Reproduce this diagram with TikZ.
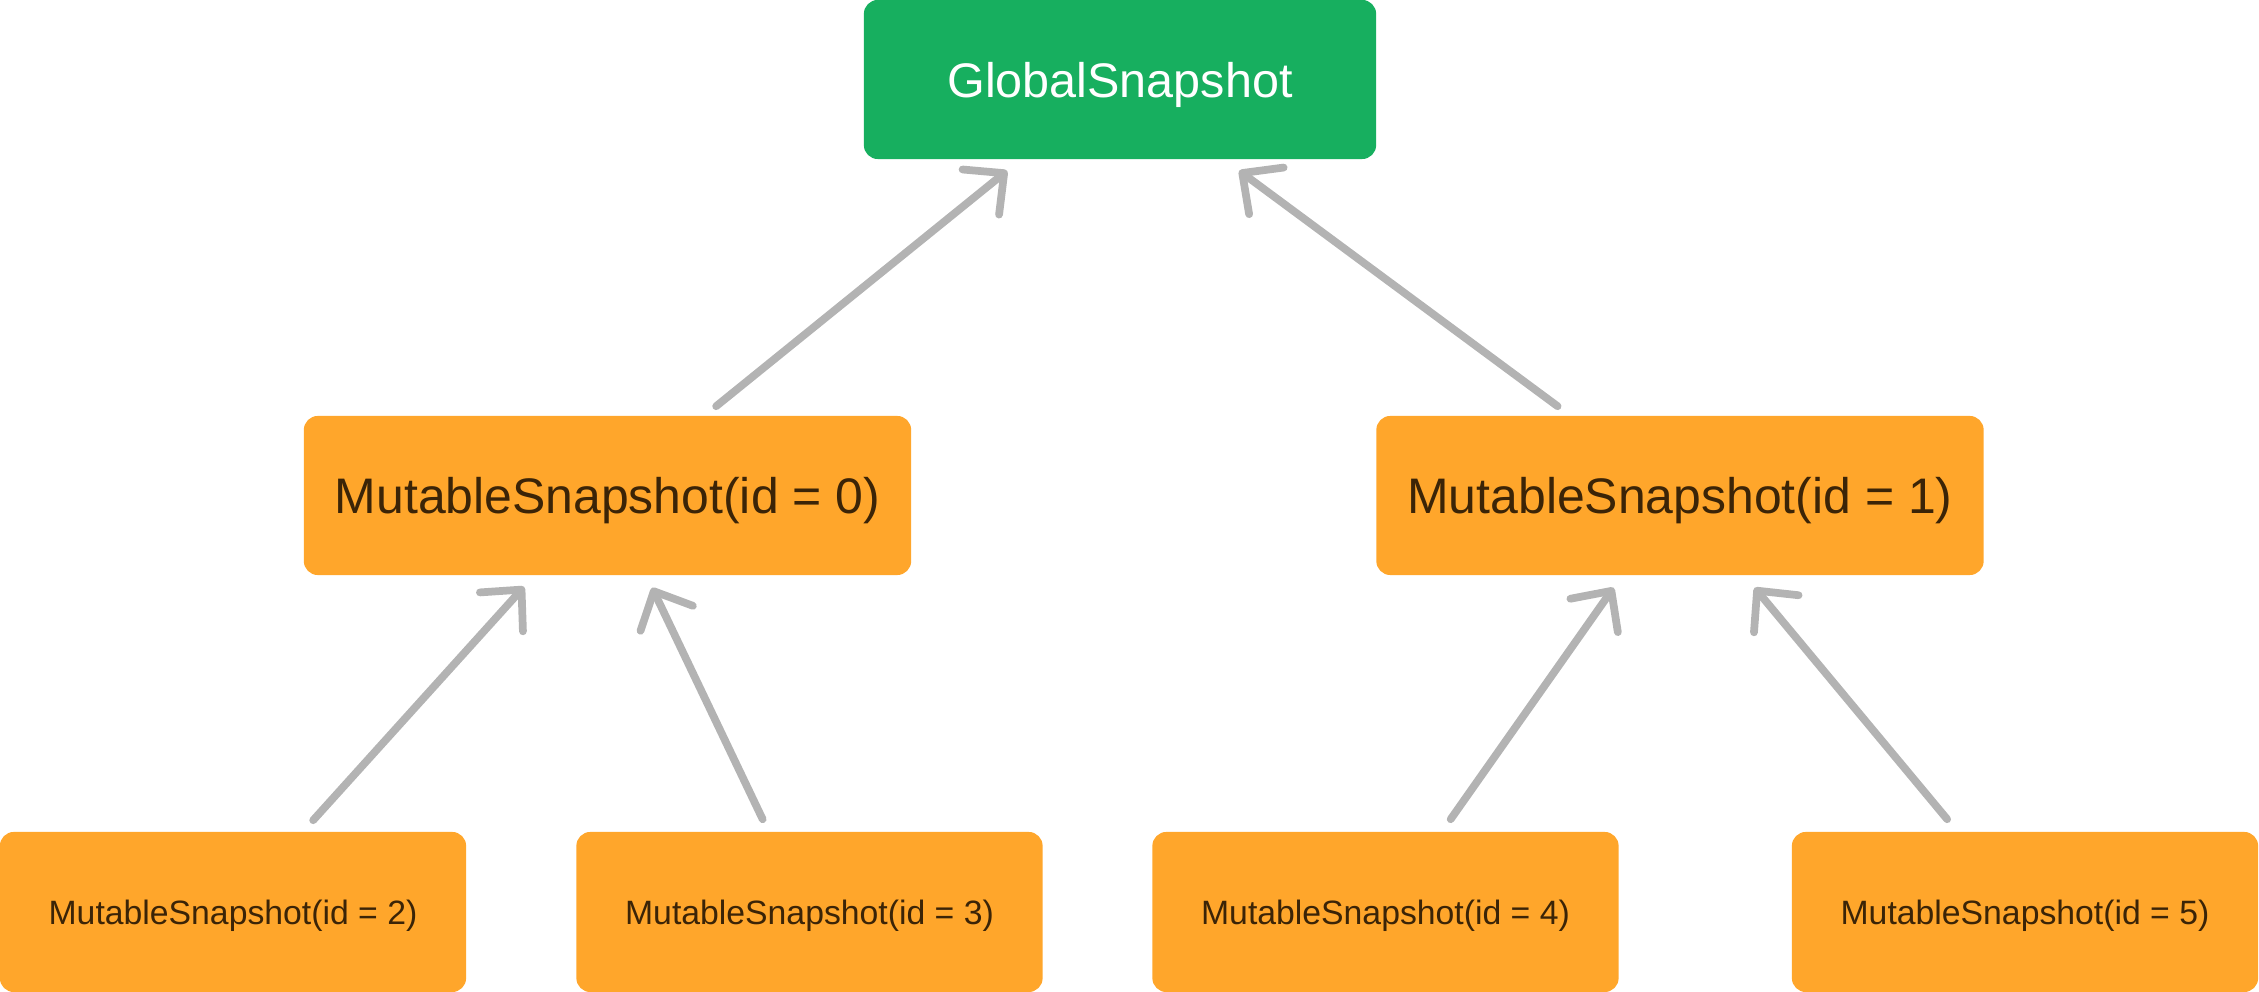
\documentclass[tikz,border=0pt]{standalone}
\usepackage{fontspec}
\setmainfont{Liberation Sans}
\usetikzlibrary{arrows.meta,calc}
\definecolor{gsgreen}{HTML}{17AF5F}
\definecolor{msorange}{HTML}{FFA62B}
\definecolor{mstext}{HTML}{3B2407}
\definecolor{arrgray}{HTML}{B3B3B3}
\tikzset{
  box/.style={rectangle, rounded corners=0.14cm, inner sep=0pt, minimum height=1.59cm, text depth=0pt},
  gbox/.style={box, fill=gsgreen, text=white, minimum width=5.12cm, font=\fontsize{13.8pt}{16pt}\selectfont},
  mbox/.style={box, fill=msorange, text=mstext, minimum width=6.07cm, font=\fontsize{14.2pt}{17pt}\selectfont},
  sbox/.style={box, fill=msorange, text=mstext, minimum width=4.66cm, minimum height=1.6cm, font=\fontsize{9.6pt}{12pt}\selectfont},
  arr/.style={draw=arrgray, line width=2.2pt, line cap=round, line join=round,
    -{Straight Barb[length=0.3cm, width=0.58cm, line cap=round, line join=round]}}
}
\begin{document}
\begin{tikzpicture}[x=0.01cm,y=-0.01cm]
\useasboundingbox (0,0) rectangle (2259,992);
\node[gbox] (g) at (1120,79.5) {GlobalSnapshot};
\node[mbox] (m0) at (607.5,495.5) {MutableSnapshot(id = 0)};
\node[mbox] (m1) at (1680,495.5) {MutableSnapshot(id = 1)};
\node[sbox] (m2) at (233,912) {MutableSnapshot(id = 2)};
\node[sbox] (m3) at (809.5,912) {MutableSnapshot(id = 3)};
\node[sbox] (m4) at (1385.5,912) {MutableSnapshot(id = 4)};
\node[sbox] (m5) at (2025,912) {MutableSnapshot(id = 5)};
% connector ends
\coordinate (a1s) at ($(m0.north west)+(413,-9)$);
\coordinate (a1t) at ($(g.south west)+(144,11)$);
\coordinate (a2s) at ($(m1.north west)+(182,-9)$);
\coordinate (a2t) at ($(g.south west)+(376,11)$);
\coordinate (a3s) at ($(m2.north west)+(314,-11)$);
\coordinate (a3t) at ($(m0.south west)+(221,11)$);
\coordinate (a4s) at ($(m3.north west)+(187,-12)$);
\coordinate (a4t) at ($(m0.south west)+(349,12)$);
\coordinate (a5s) at ($(m4.north west)+(299,-12)$);
\coordinate (a5t) at ($(m1.south west)+(238,12)$);
\coordinate (a6s) at ($(m5.north west)+(156,-12)$);
\coordinate (a6t) at ($(m1.south west)+(379,12)$);
\draw[arr] (a1s) -- (a1t);
\draw[arr] (a2s) -- (a2t);
\draw[arr] (a3s) -- (a3t);
\draw[arr] (a4s) -- (a4t);
\draw[arr] (a5s) -- (a5t);
\draw[arr] (a6s) -- (a6t);
\end{tikzpicture}
\end{document}
